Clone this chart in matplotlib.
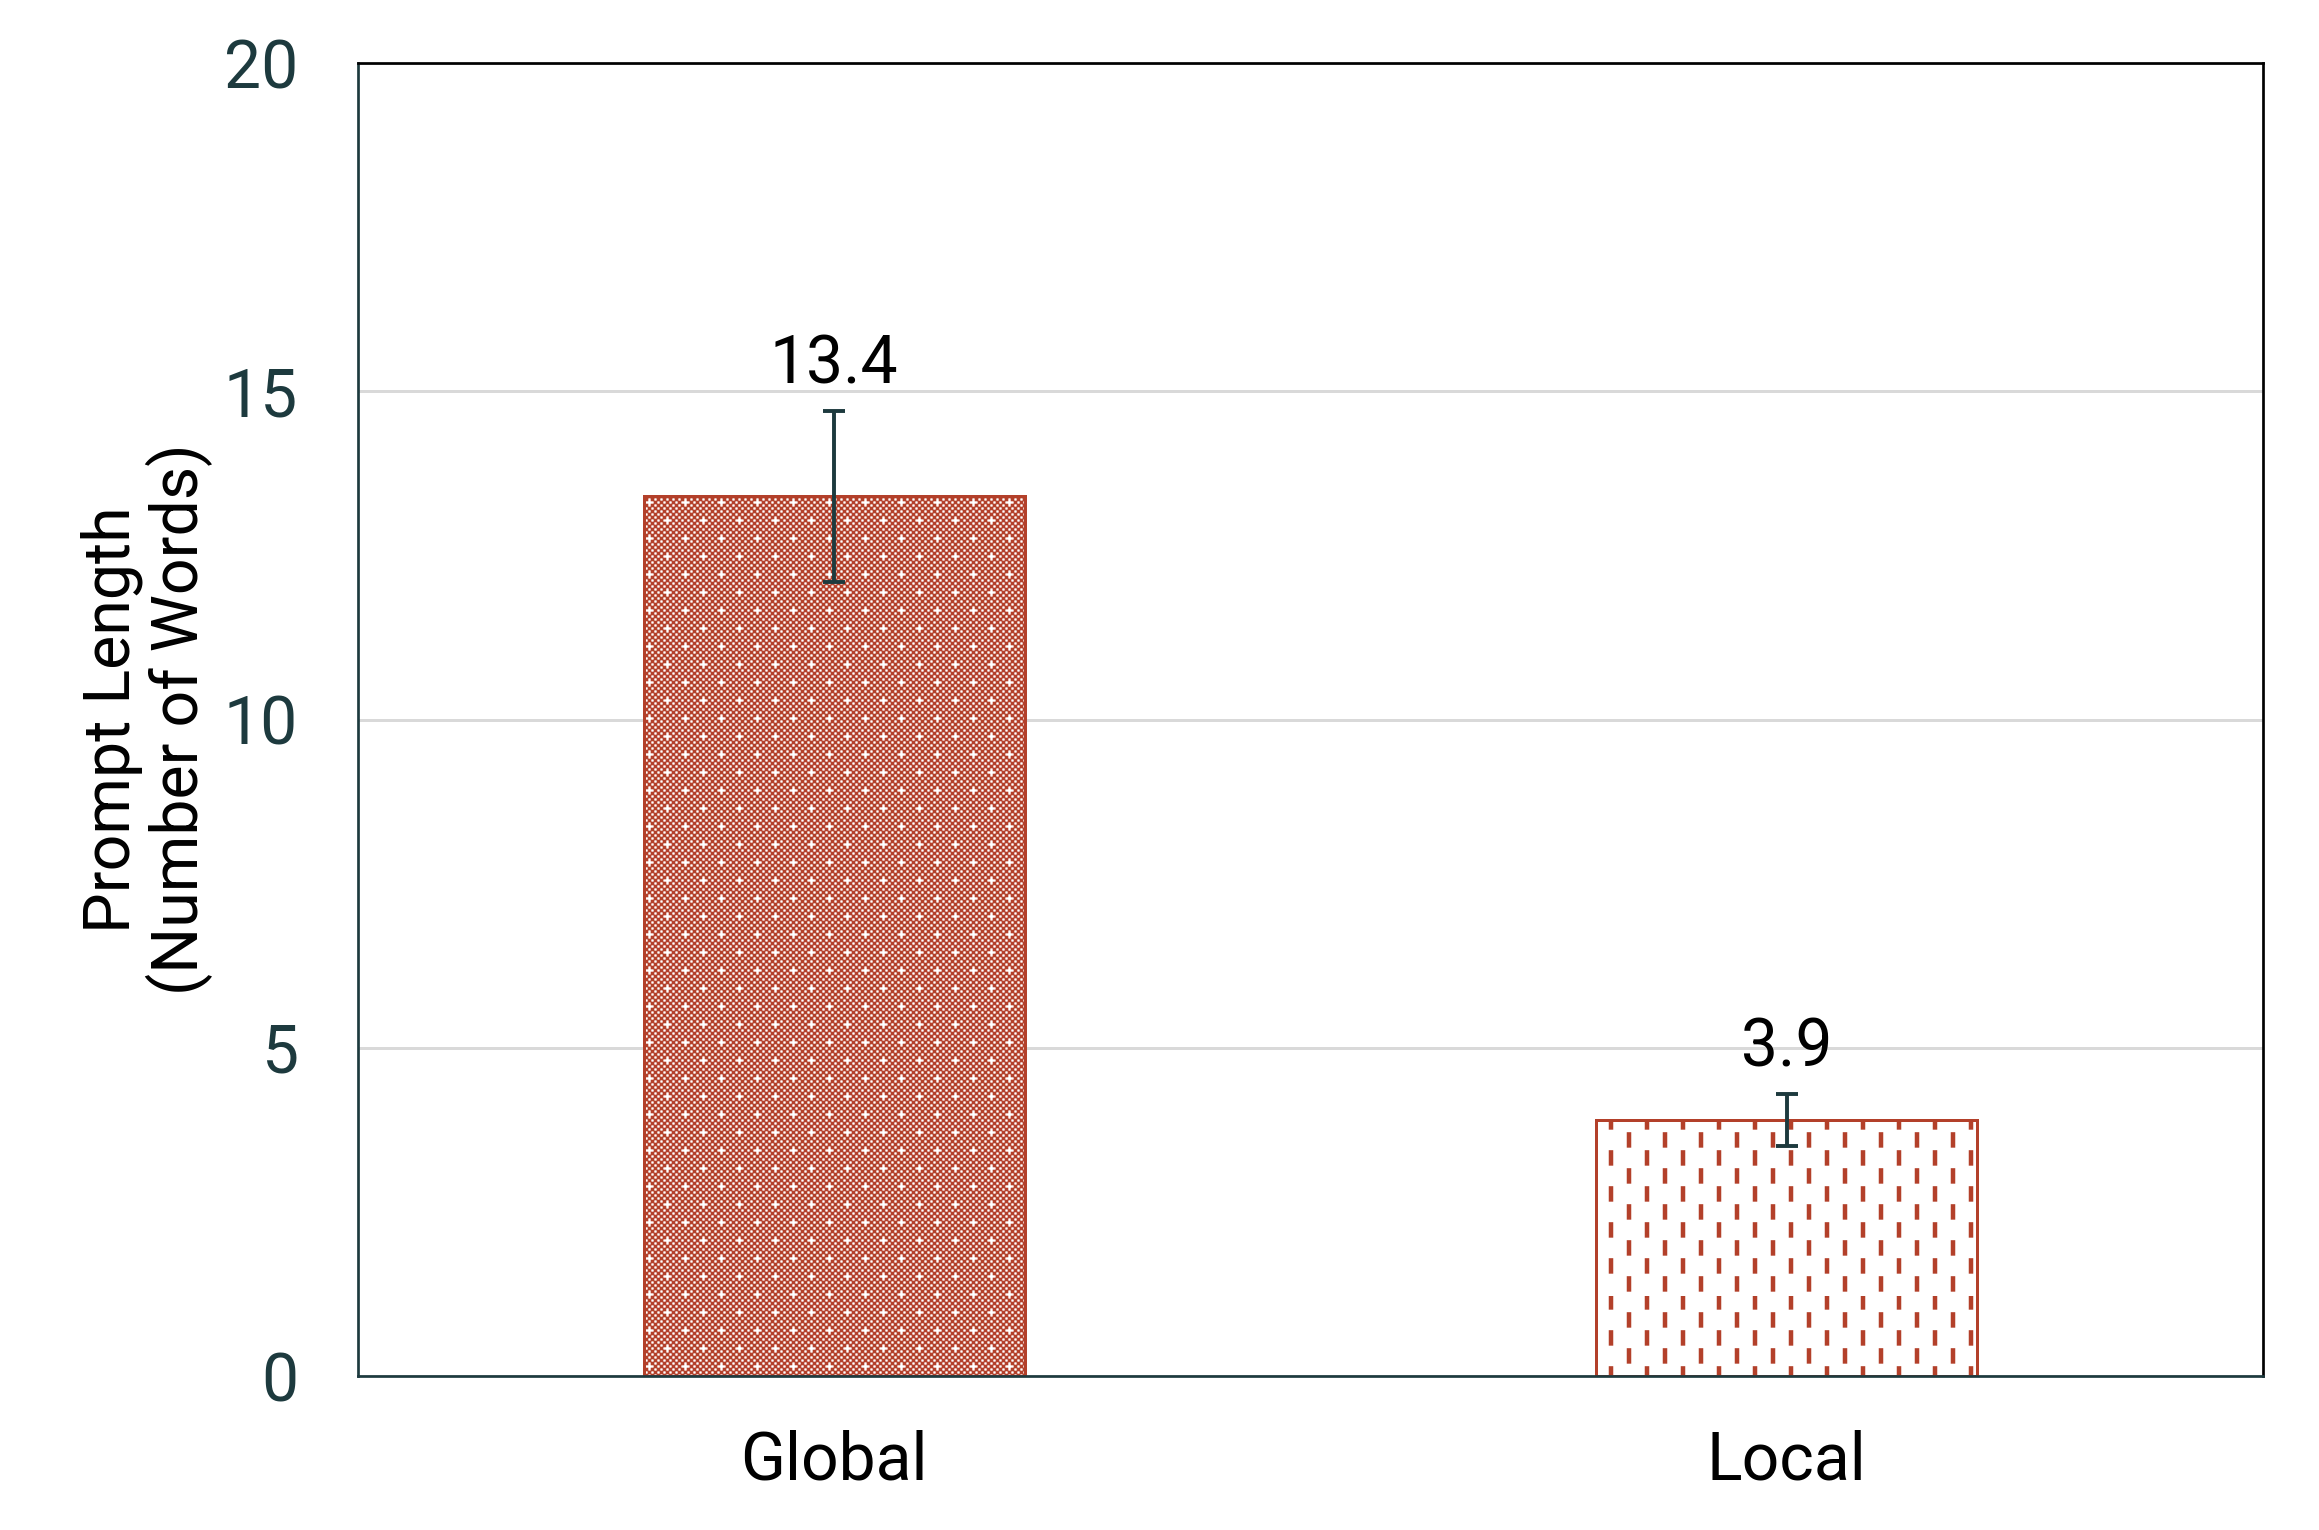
import numpy as np
import matplotlib
matplotlib.use("Agg")
import matplotlib.pyplot as plt
import matplotlib.hatch as mhatch
from matplotlib.path import Path

categories = ["Global", "Local"]
lengths = [13.4, 3.9]
errors = [1.3, 0.4]
hatches = ["x", "|"]

red = "#b3402a"
teal = "#1d3a3e"

SQ = np.array([[0, 0], [1, 0], [1, 1], [0, 1], [0, 0]], dtype=float)
RECT_CODES = [Path.MOVETO, Path.LINETO, Path.LINETO, Path.LINETO, Path.CLOSEPOLY]


# custom fills: fine checkerboard with white dots ('x'), staggered dashes ('|')
class Checker(mhatch.HatchPatternBase):
    n = 72
    grow = 0.3 / 216  # red cells a touch larger than the white ones

    def __init__(self, hatch, density):
        self.cells = []
        if "x" in hatch:
            n = self.n
            for j in range(-1, n + 1):
                for i in range(-1, n + 1):
                    ii, jj = i % n, j % n
                    if (ii + jj) % 2:
                        continue
                    if jj % 6 == 0 and ii % 12 == (jj // 6 % 2) * 6:
                        continue
                    self.cells.append((i, j))
        self.num_vertices = len(self.cells) * 5

    def set_vertices_and_codes(self, vertices, codes):
        s = 1.0 / self.n
        g = self.grow
        sq = SQ * (s + 2 * g) - g
        cells = np.array(self.cells, dtype=float) * s
        vertices[:] = (cells[:, None, :] + sq[None, :, :]).reshape(-1, 2)
        codes[:] = np.tile(RECT_CODES, len(self.cells))


class Dashes(mhatch.HatchPatternBase):
    ncols = 12
    nrows = 6
    w = 4.5 / 216
    h = 15.5 / 216

    def __init__(self, hatch, density):
        self.rects = []
        if "|" in hatch:
            for i in range(self.ncols):
                for j in range(self.nrows):
                    x = i / self.ncols + 0.5 / self.ncols
                    y = j / self.nrows + (i % 2) * 0.5 / self.nrows + 0.02
                    self.rects.append((x - self.w / 2, y))
        self.num_vertices = len(self.rects) * 5

    def set_vertices_and_codes(self, vertices, codes):
        sq = SQ * [self.w, self.h]
        r = np.array(self.rects, dtype=float)
        vertices[:] = (r[:, None, :] + sq[None, :, :]).reshape(-1, 2)
        codes[:] = np.tile(RECT_CODES, len(self.rects))


mhatch._hatch_types = [Checker, Dashes]

plt.rcParams["font.family"] = ["Roboto", "DejaVu Sans"]
plt.rcParams["hatch.linewidth"] = 0.0

fig = plt.figure(figsize=(2319 / 216, 1530 / 216), dpi=216)
ax = fig.add_axes([358 / 2319, 1 - 1376 / 1530, 1905 / 2319, 1313 / 1530])

x = np.arange(len(categories))
ax.bar(x, lengths, width=0.4, color="white", edgecolor=red, linewidth=1.0,
       hatch=hatches, zorder=2)
ax.errorbar(x, lengths, yerr=errors, fmt="none", ecolor=teal, elinewidth=1.3,
            capsize=3.7, capthick=1.3, zorder=3)

for xi, v, e in zip(x, lengths, errors):
    ax.annotate(f"{v:.1f}", (xi, v + e), xytext=(0, 9), textcoords="offset points",
                ha="center", va="baseline", fontsize=22, color="black")

ax.set_xlim(-0.5, 1.5)
ax.set_ylim(0, 20)
ax.set_yticks([0, 5, 10, 15, 20])
ax.set_xticks(x)
ax.set_xticklabels(categories)
ax.tick_params(axis="y", length=0, pad=20, labelsize=22, labelcolor=teal)
ax.tick_params(axis="x", length=0, pad=18, labelsize=22, labelcolor="black")

ax.yaxis.grid(True, color="#d9d9d9", linewidth=1.0, zorder=0)
ax.set_axisbelow(True)

for side in ["left", "bottom"]:
    ax.spines[side].set_color(teal)
    ax.spines[side].set_linewidth(0.9)
for side in ["top", "right"]:
    ax.spines[side].set_color("black")
    ax.spines[side].set_linewidth(0.9)

ax.set_ylabel("Prompt Length\n(Number of Words)", fontsize=21.5, color="black",
              linespacing=1.05)
ax.yaxis.set_label_coords(-0.076, 0.5)

fig.savefig("out.png", dpi=216)
